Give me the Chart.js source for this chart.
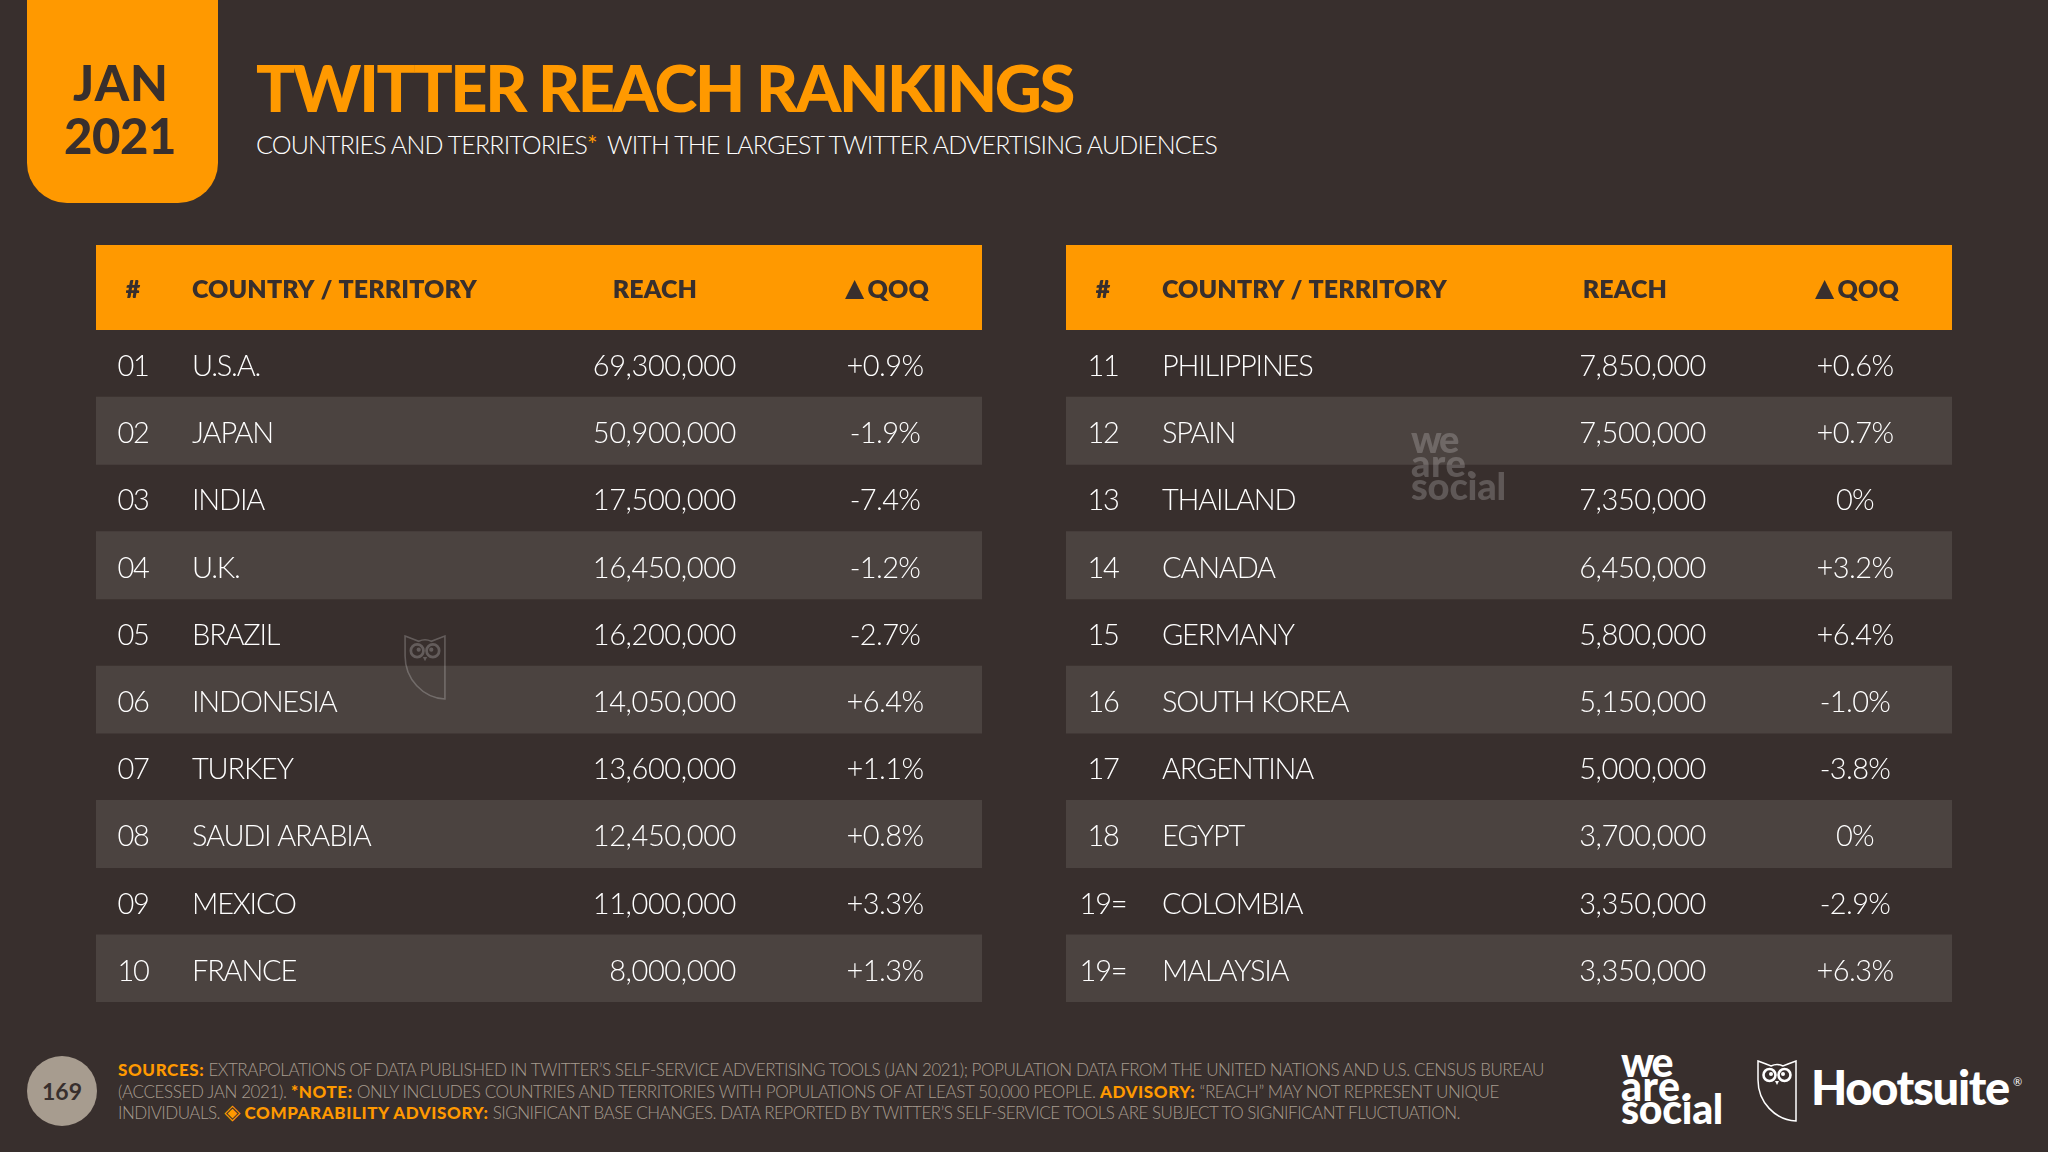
<!DOCTYPE html>
<html>
<head>
<meta charset="utf-8">
<script src="https://cdn.jsdelivr.net/npm/chart.js@4"></script>
<style>
  html, body { margin: 0; padding: 0; background: #382f2d; }
  #page { position: relative; width: 2048px; height: 1152px; overflow: hidden; background: #382f2d; font-family: Lato, sans-serif; }
  .abs { position: absolute; white-space: nowrap; }
  #badge { left: 27px; top: 0; width: 191px; height: 203px; background: #ff9900; border-radius: 0 0 40px 40px; }
  #jan, #year { font-weight: 900; font-size: 49px; line-height: 49px; color: #382f2d; }
  #jan { left: 73px; top: 58px; }
  #year { left: 64px; top: 111px; }
  #title { left: 256px; top: 48px; font-size: 65px; line-height: 78px; font-weight: 900; color: #ff9900; }
  #subtitle { left: 256px; top: 127px; font-size: 25px; line-height: 34px; font-weight: 300; color: #fff; }
  #subtitle b { color: #ff9900; font-weight: 400; margin-right: 5px; }
  .table-wrap { position: absolute; top: 245px; width: 886px; height: 757px; }
  #circle { left: 27px; top: 1056px; width: 70px; height: 70px; border-radius: 35px; background: #a79c8f; color: #382f2d; font-weight: 700; font-size: 23px; line-height: 70px; text-align: center; }
  .note { left: 118px; font-size: 17px; line-height: 21px; font-weight: 300; color: #a79c8f; }
  .note b { color: #ff9900; font-weight: 900; letter-spacing: 0.6px; }
  .note i { font-style: normal; font-weight: 400; font-size: 21px; line-height: 17px; color: #ff9900; font-family: "DejaVu Sans"; letter-spacing: 0; }
  .wearesocial { font-weight: 900; color: #fff; }
  .wearesocial div { height: 23.5px; width: fit-content; white-space: nowrap; }
  #hoot { left: 1811px; top: 1058px; font-size: 47px; line-height: 58px; font-weight: 900; color: #fff; }
  #reg { left: 2013px; top: 1076px; font-size: 11px; line-height: 12px; color: #fff; }
</style>
</head>
<body>
<div id="page">
  <div class="abs" id="badge"></div>
  <div class="abs" id="jan" data-w="96">JAN</div>
  <div class="abs" id="year" data-w="112">2021</div>
  <div class="abs" id="title" data-w="817">TWITTER REACH RANKINGS</div>
  <div class="abs" id="subtitle" data-w="961">COUNTRIES AND TERRITORIES<b>*</b> WITH THE LARGEST TWITTER ADVERTISING AUDIENCES</div>

  <div class="table-wrap" style="left:96px"><canvas id="leftTable"></canvas></div>
  <div class="table-wrap" style="left:1066px"><canvas id="rightTable"></canvas></div>

  <div class="abs" id="circle">169</div>
  <div class="abs note" style="top:1059px" data-w="1426"><b>SOURCES:</b> EXTRAPOLATIONS OF DATA PUBLISHED IN TWITTER’S SELF-SERVICE ADVERTISING TOOLS (JAN 2021); POPULATION DATA FROM THE UNITED NATIONS AND U.S. CENSUS BUREAU</div>
  <div class="abs note" style="top:1081px" data-w="1381">(ACCESSED JAN 2021). <b>*NOTE:</b> ONLY INCLUDES COUNTRIES AND TERRITORIES WITH POPULATIONS OF AT LEAST 50,000 PEOPLE. <b>ADVISORY:</b> “REACH” MAY NOT REPRESENT UNIQUE</div>
  <div class="abs note" style="top:1102px" data-w="1342">INDIVIDUALS. <i>◈</i> <b>COMPARABILITY ADVISORY:</b> SIGNIFICANT BASE CHANGES. DATA REPORTED BY TWITTER’S SELF-SERVICE TOOLS ARE SUBJECT TO SIGNIFICANT FLUCTUATION.</div>

  <div class="abs wearesocial" style="left:1621px;top:1050px;font-size:41px;line-height:23.5px">
    <div data-w="50">we</div><div data-w="70">are.</div><div data-w="102">social</div>
  </div>
  <svg class="abs" style="left:1757px;top:1060px" width="40" height="62" viewBox="0 0 40 62"><use href="#owl"/></svg>
  <div class="abs" id="hoot" data-w="198">Hootsuite</div>
  <div class="abs" id="reg">®</div>

  <!-- watermarks -->
  <svg class="abs" style="left:403px;top:635px;opacity:.22" width="44" height="65" viewBox="0 0 40 62"><use href="#owl"/></svg>
  <div class="abs wearesocial" style="left:1411px;top:427px;font-size:38px;line-height:23.5px;opacity:.2">
    <div data-w="46">we</div><div data-w="65">are.</div><div data-w="95">social</div>
  </div>

  <svg width="0" height="0" style="position:absolute"><defs>
    <g id="owl" fill="none" stroke="#fff" stroke-width="1.5">
      <path d="M1 1 L9 4 L14 6 Q20 3 26 6 L31 4 L39 1 L39 61 C18 60 1 42 1 20 Z"/>
      <circle cx="12.5" cy="15" r="6" stroke-width="2.6"/>
      <circle cx="27.5" cy="15" r="6" stroke-width="2.6"/>
      <circle cx="14" cy="14" r="2" fill="#fff" stroke="none"/>
      <circle cx="26" cy="14" r="2" fill="#fff" stroke="none"/>
      <path d="M18 21 L20 25 L22 21 Z" fill="#fff" stroke="none"/>
    </g>
  </defs></svg>
</div>

<script>
// table headers
const headers = ["#", "COUNTRY / TERRITORY", "REACH", "▲", "QOQ"];

// left table
const ranksLeft = ["01", "02", "03", "04", "05", "06", "07", "08", "09", "10"];
const countriesLeft = ["U.S.A.", "JAPAN", "INDIA", "U.K.", "BRAZIL", "INDONESIA", "TURKEY", "SAUDI ARABIA", "MEXICO", "FRANCE"];
const reachLeft = [69300000, 50900000, 17500000, 16450000, 16200000, 14050000, 13600000, 12450000, 11000000, 8000000];
const qoqLeft = [0.9, -1.9, -7.4, -1.2, -2.7, 6.4, 1.1, 0.8, 3.3, 1.3];

// right table
const ranksRight = ["11", "12", "13", "14", "15", "16", "17", "18", "19=", "19="];
const countriesRight = ["PHILIPPINES", "SPAIN", "THAILAND", "CANADA", "GERMANY", "SOUTH KOREA", "ARGENTINA", "EGYPT", "COLOMBIA", "MALAYSIA"];
const reachRight = [7850000, 7500000, 7350000, 6450000, 5800000, 5150000, 5000000, 3700000, 3350000, 3350000];
const qoqRight = [0.6, 0.7, 0, 3.2, 6.4, -1.0, -3.8, 0, -2.9, 6.3];

const ORANGE = "#ff9900";
const DARK = "#382f2d";
const BAND = "#4b4340";
const HEADER_H = 85;

// column anchors on the x scale, px from the left edge of the table
const colRank = 37, colCountry = 96, colReach = 640, colQoq = 789;

function fmtQoq(v) {
  if (v === 0) return "0%";
  return (v > 0 ? "+" : "-") + Math.abs(v).toFixed(1) + "%";
}

// draws the header strip and every cell, positions come from the chart scales
const tableText = {
  id: "tableText",
  afterDatasetsDraw(chart, args, opts) {
    const { ctx, scales } = chart;
    const x = scales.x, y = scales.y, area = chart.chartArea;
    ctx.save();
    ctx.fillStyle = ORANGE;
    ctx.fillRect(area.left, 0, area.right - area.left, HEADER_H);

    ctx.textBaseline = "middle";
    ctx.fillStyle = DARK;
    ctx.font = "800 25px Lato";
    ctx.letterSpacing = "0.1px";
    const headY = HEADER_H / 2 + 2;
    ctx.textAlign = "center";
    ctx.fillText(headers[0], x.getPixelForValue(colRank), headY);
    ctx.textAlign = "left";
    ctx.fillText(headers[1], x.getPixelForValue(colCountry), headY);
    ctx.textAlign = "right";
    ctx.fillText(headers[2], x.getPixelForValue(601), headY);
    ctx.fillText(headers[4], x.getPixelForValue(833), headY);
    ctx.textAlign = "left";
    ctx.font = "25px 'DejaVu Sans'";
    ctx.fillText(headers[3], x.getPixelForValue(749), headY);

    ctx.fillStyle = "#fff";
    ctx.font = "300 29px Lato";
    opts.ranks.forEach((r, i) => {
      const py = y.getPixelForValue(i) + 3;
      ctx.letterSpacing = "-1.2px";
      ctx.textAlign = "center";
      ctx.fillText(r, x.getPixelForValue(colRank), py);
      ctx.textAlign = "left";
      ctx.fillText(opts.countries[i], x.getPixelForValue(colCountry), py);
      ctx.letterSpacing = "-0.4px";
      ctx.textAlign = "right";
      ctx.fillText(opts.reach[i].toLocaleString("en-US"), x.getPixelForValue(colReach), py);
      ctx.letterSpacing = "-0.6px";
      ctx.textAlign = "center";
      ctx.fillText(fmtQoq(opts.qoq[i]), x.getPixelForValue(colQoq), py);
    });
    ctx.restore();
  },
};

function makeTable(id, ranks, countries, reach, qoq) {
  return new Chart(document.getElementById(id), {
    type: "bar",
    plugins: [tableText],
    data: {
      labels: ranks,
      datasets: [{
        // every second row gets a full width band
        data: ranks.map((r, i) => (i % 2 ? [0, 886] : null)),
        backgroundColor: BAND,
        barPercentage: 1,
        categoryPercentage: 1,
      }],
    },
    options: {
      indexAxis: "y",
      responsive: true,
      maintainAspectRatio: false,
      animation: false,
      layout: { padding: { top: HEADER_H } },
      scales: {
        x: { type: "linear", min: 0, max: 886, display: false },
        y: { display: false },
      },
      plugins: {
        legend: { display: false },
        tooltip: { enabled: false },
        tableText: { ranks, countries, reach, qoq },
      },
    },
  });
}

makeTable("leftTable", ranksLeft, countriesLeft, reachLeft, qoqLeft);
makeTable("rightTable", ranksRight, countriesRight, reachRight, qoqRight);

// stretch or squeeze header and footer lines to the measured width,
// bold runs keep their own spacing so only the plain characters count
document.querySelectorAll("[data-w]").forEach((el) => {
  const w = el.getBoundingClientRect().width;
  let n = el.textContent.length;
  el.querySelectorAll(".note b, .note i").forEach((b) => { n -= b.textContent.length; });
  el.style.letterSpacing = (el.dataset.w - w) / n + "px";
});
</script>
</body>
</html>
